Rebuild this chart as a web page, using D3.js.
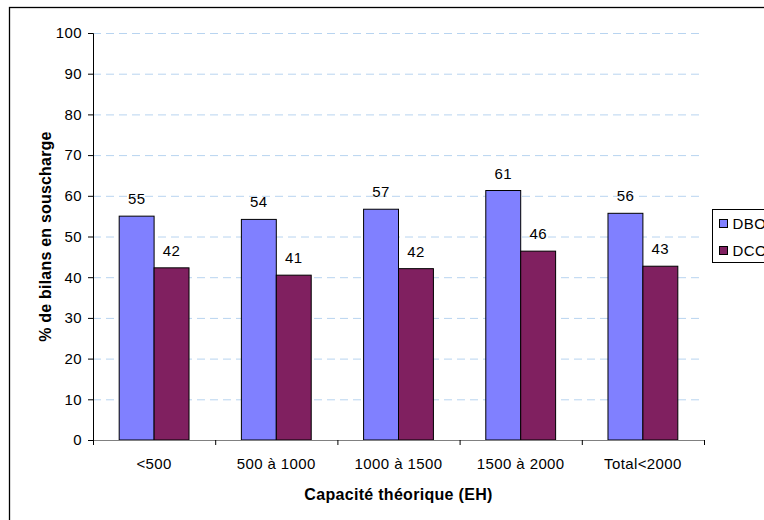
<!DOCTYPE html>
<html>
<head>
<meta charset="utf-8">
<script src="https://cdn.jsdelivr.net/npm/d3@7"></script>
<style>
  body { margin: 0; background: #fff; overflow: hidden; }
  svg { font-family: "Liberation Sans", Arial, sans-serif; }
</style>
</head>
<body>
<div id="chart"></div>
<script>
// categories and series
const categories = ['<500', '500 à 1000', '1000 à 1500', '1500 à 2000', 'Total<2000'];
const seriesNames = ['DBO', 'DCO'];
const dboValues = [55.0, 54.2, 56.7, 61.3, 55.7];
const dcoValues = [42.3, 40.5, 42.1, 46.4, 42.7];
const yTicks = [0, 10, 20, 30, 40, 50, 60, 70, 80, 90, 100];
const colors = ['#8080FF', '#802060'];

const width = 764, height = 520;
const margin = { left: 93, right: 60, top: 33, bottom: 80 };
const FONT = '"Liberation Sans", Arial, sans-serif';

const svg = d3.select('#chart').append('svg')
    .attr('width', width)
    .attr('height', height);

// outer frame (runs off the right and bottom edges)
svg.append('rect')
    .attr('x', 9.5).attr('y', 7.5)
    .attr('width', 800).attr('height', 600)
    .attr('fill', 'none')
    .attr('stroke', '#000')
    .attr('stroke-width', 1.3);

const x = d3.scaleBand()
    .domain(categories)
    .range([margin.left, width - margin.right]);

const xInner = d3.scaleBand()
    .domain(seriesNames)
    .range([0, x.bandwidth()])
    .paddingInner(0)
    .paddingOuter(0.75);

const y = d3.scaleLinear()
    .domain([0, 100])
    .range([height - margin.bottom, margin.top]);

// gridlines
svg.append('g')
    .selectAll('line')
    .data(yTicks.filter(d => d > 0))
    .join('line')
    .attr('x1', margin.left)
    .attr('x2', width - margin.right)
    .attr('y1', d => y(d) + 0.5)
    .attr('y2', d => y(d) + 0.5)
    .attr('stroke', '#b8d4f0')
    .attr('stroke-dasharray', '8,5');

// bars
const data = categories.map((c, i) => ({ cat: c, vals: [dboValues[i], dcoValues[i]] }));

const groups = svg.append('g')
    .selectAll('g')
    .data(data)
    .join('g')
    .attr('transform', d => `translate(${x(d.cat)},0)`);

groups.selectAll('rect')
    .data(d => d.vals.map((v, j) => ({ name: seriesNames[j], v, j })))
    .join('rect')
    .attr('x', d => xInner(d.name))
    .attr('y', d => y(d.v))
    .attr('width', xInner.bandwidth())
    .attr('height', d => y(0) - y(d.v))
    .attr('fill', d => colors[d.j])
    .attr('stroke', '#000')
    .attr('stroke-width', 1);

groups.selectAll('text')
    .data(d => d.vals.map((v, j) => ({ name: seriesNames[j], v, j })))
    .join('text')
    .attr('x', d => xInner(d.name) + xInner.bandwidth() / 2)
    .attr('y', d => y(d.v) - 12)
    .attr('text-anchor', 'middle')
    .attr('font-size', 15)
    .attr('letter-spacing', 0.4)
    .attr('fill', '#000')
    .text(d => Math.round(d.v));

// y axis
const yAxis = svg.append('g')
    .attr('transform', `translate(${margin.left},0)`)
    .call(d3.axisLeft(y).tickValues(yTicks).tickSize(5).tickPadding(6));
yAxis.select('.domain').attr('stroke', '#000');
yAxis.selectAll('.tick line').attr('stroke', '#000');
yAxis.selectAll('.tick text')
    .attr('font-size', 15)
    .attr('letter-spacing', 0.4)
    .attr('font-family', FONT)
    .attr('fill', '#000');

// x axis
const xAxis = svg.append('g')
    .attr('transform', `translate(0,${height - margin.bottom})`)
    .call(d3.axisBottom(x).tickSize(0).tickPadding(18));
xAxis.select('.domain').attr('stroke', '#808080');
xAxis.selectAll('.tick text')
    .attr('font-size', 15)
    .attr('letter-spacing', 0.4)
    .attr('font-family', FONT)
    .attr('fill', '#000');

// category separators on the x axis
svg.append('g')
    .selectAll('line')
    .data(categories.map(c => x(c)).concat([width - margin.right]))
    .join('line')
    .attr('x1', d => d + 0.5)
    .attr('x2', d => d + 0.5)
    .attr('y1', y(0))
    .attr('y2', y(0) + 5)
    .attr('stroke', '#000');

// axis titles
svg.append('text')
    .attr('transform', `translate(51,${(margin.top + height - margin.bottom) / 2}) rotate(-90)`)
    .attr('text-anchor', 'middle')
    .attr('font-size', 16)
    .attr('letter-spacing', 0.2)
    .attr('font-weight', 'bold')
    .text('% de bilans en souscharge');

svg.append('text')
    .attr('x', (margin.left + width - margin.right) / 2)
    .attr('y', 500)
    .attr('text-anchor', 'middle')
    .attr('font-size', 16)
    .attr('letter-spacing', 0.3)
    .attr('font-weight', 'bold')
    .text('Capacité théorique (EH)');

// legend (cut by the right edge, as in the original)
const legend = svg.append('g').attr('transform', 'translate(712.5,209.5)');
legend.append('rect')
    .attr('width', 80).attr('height', 53)
    .attr('fill', '#fff')
    .attr('stroke', '#000');
seriesNames.forEach((name, i) => {
    legend.append('rect')
        .attr('x', 7).attr('y', 10 + i * 27)
        .attr('width', 8).attr('height', 8)
        .attr('fill', colors[i])
        .attr('stroke', '#000');
    legend.append('text')
        .attr('x', 20).attr('y', 19.5 + i * 27)
        .attr('font-size', 15)
        .attr('letter-spacing', 0.4)
        .text(name);
});
</script>
</body>
</html>
